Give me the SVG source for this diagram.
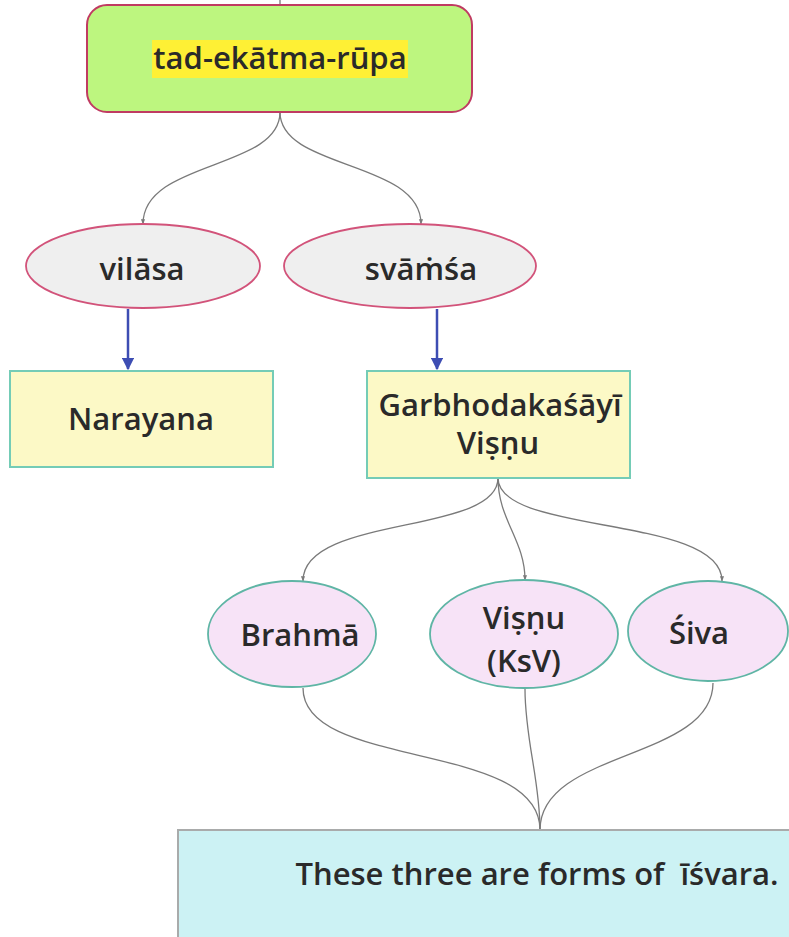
<svg xmlns="http://www.w3.org/2000/svg" width="789" height="937" viewBox="0 0 789 937">
<defs>
<style>
.t{font-family:"Open Sans","Noto Sans","DejaVu Sans",sans-serif;font-weight:600;fill:#2a2a2a;text-anchor:middle;font-size:31px}
.c{fill:none;stroke:#7a7a7a;stroke-width:1.3}
.b{fill:none;stroke:#3d4db3;stroke-width:2.5}
.root{fill:#bdf67f;stroke:#c03b62;stroke-width:2}
.gray{fill:#efefef;stroke:#d2537a;stroke-width:1.8}
.yel{fill:#fcf9c6;stroke:#74ccb6;stroke-width:2}
.pink{fill:#f7e3f7;stroke:#5fb5a5;stroke-width:1.8}
.cyan{fill:#ccf2f4;stroke:#a9abab;stroke-width:2}
</style>
<marker id="ba" viewBox="0 0 10 10" refX="9" refY="5" markerWidth="5" markerHeight="5" orient="auto" markerUnits="strokeWidth">
<path d="M0,0 L10,5 L0,10 z" fill="#3d4db3"/>
</marker>
<marker id="ga" viewBox="0 0 10 10" refX="9" refY="5" markerWidth="4" markerHeight="4" orient="auto" markerUnits="strokeWidth">
<path d="M0,1 L10,5 L0,9 z" fill="#7a7a7a"/>
</marker>
</defs>
<rect width="789" height="937" fill="#ffffff"/>
<g id="connectors">
<path class="c" d="M280,0 L280,6"/>
<path class="c" d="M280,112 C280,170 143,160 143,224" marker-end="url(#ga)"/>
<path class="c" d="M280,112 C280,170 421,160 421,224" marker-end="url(#ga)"/>
<path class="b" d="M128,309 L128,369" marker-end="url(#ba)"/>
<path class="b" d="M437,309 L437,369" marker-end="url(#ba)"/>
<path class="c" d="M498,478 C498,535 303,515 303,581" marker-end="url(#ga)"/>
<path class="c" d="M498,478 C498,520 525,540 525,580" marker-end="url(#ga)"/>
<path class="c" d="M498,478 C498,535 722,515 722,581" marker-end="url(#ga)"/>
<path class="c" d="M303,688 C303,770 540,740 540,830"/>
<path class="c" d="M525,689 C525,740 540,780 540,830"/>
<path class="c" d="M713,683 C713,760 540,750 540,830"/>
</g>
<g id="root">
<rect class="root" x="87" y="5" width="385" height="107" rx="20"/>
<rect x="152" y="40" width="256" height="38" fill="#fef035"/>
<text class="t" x="280" y="69">tad-ekātma-rūpa</text>
</g>
<g id="vilasa">
<ellipse class="gray" cx="143" cy="266" rx="117" ry="42"/>
<text class="t" x="142" y="280">vilāsa</text>
</g>
<g id="svamsa">
<ellipse class="gray" cx="410" cy="266" rx="126" ry="42"/>
<text class="t" x="421" y="280">svāṁśa</text>
</g>
<g id="narayana">
<rect class="yel" x="10" y="371" width="263" height="96"/>
<text class="t" x="141" y="430">Narayana</text>
</g>
<g id="garbhodaka">
<rect class="yel" x="367" y="371" width="263" height="107"/>
<text class="t" x="500" y="416">Garbhodakaśāyī</text>
<text class="t" x="498" y="454">Viṣṇu</text>
</g>
<g id="brahma">
<ellipse class="pink" cx="292" cy="634" rx="84" ry="53"/>
<text class="t" x="300" y="646">Brahmā</text>
</g>
<g id="vishnu">
<ellipse class="pink" cx="524" cy="634" rx="94" ry="54"/>
<text class="t" x="524" y="629">Viṣṇu</text>
<text class="t" x="524" y="672">(KsV)</text>
</g>
<g id="siva">
<ellipse class="pink" cx="708" cy="631" rx="80" ry="50"/>
<text class="t" x="699" y="644">Śiva</text>
</g>
<g id="isvara">
<rect class="cyan" x="178" y="830" width="640" height="130"/>
<text class="t" x="537" y="885" xml:space="preserve">These three are forms of  īśvara.</text>
</g>
</svg>
